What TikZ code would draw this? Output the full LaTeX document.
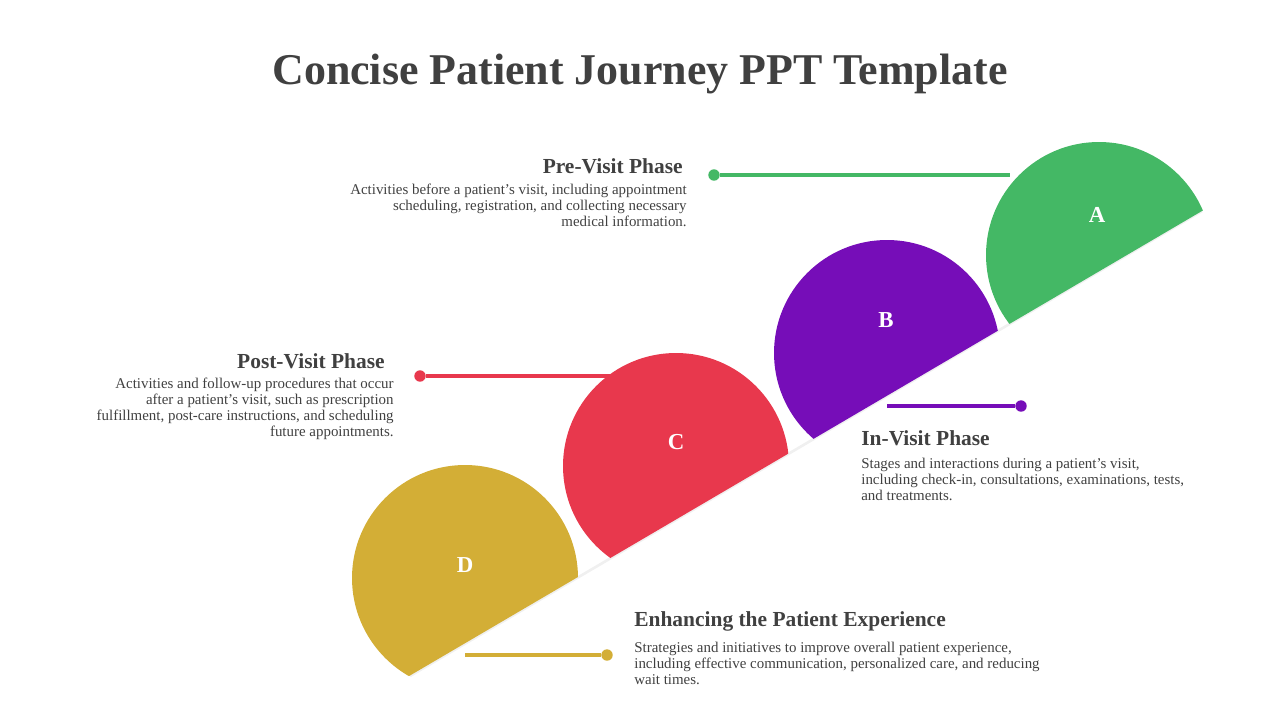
\documentclass[tikz,border=0pt]{standalone}
\usepackage{fontspec}
\setmainfont{Liberation Serif}
\usetikzlibrary{positioning}
\definecolor{phgreen}{HTML}{44B865}
\definecolor{phpurple}{HTML}{760DB8}
\definecolor{phred}{HTML}{E8384D}
\definecolor{phgold}{HTML}{D3AE36}
\definecolor{txtdark}{HTML}{404040}
\tikzset{
  dot/.style={circle, fill=#1, inner sep=0pt, minimum size=6.5pt},
  link/.style={line width=2.2pt, draw=#1},
  head/.style={text=txtdark, font=\fontsize{12.2}{14}\selectfont\bfseries, inner sep=0pt},
  desc/.style={text=txtdark, font=\fontsize{8.5}{9.1}\selectfont, inner sep=0pt},
  letter/.style={text=white, font=\fontsize{13}{15}\selectfont\bfseries}
}
\begin{document}
\begin{tikzpicture}[x=0.02cm, y=-0.02cm]
    \useasboundingbox (0,0) rectangle (1280,720);

    \node[text=txtdark, font=\fontsize{25}{30}\selectfont\bfseries] (title) at (640,74) {Concise Patient Journey PPT Template};

    % connectors first, so that the half discs cover them
    \coordinate (ain) at (1010,175);
    \coordinate (bin) at (887,406);
    \coordinate (cin) at (640,376);
    \coordinate (din) at (465,655);
    \node[dot=phgreen] (adot) at (714,175) {};
    \node[dot=phpurple] (bdot) at (1021,406) {};
    \node[dot=phred] (cdot) at (420,376) {};
    \node[dot=phgold] (ddot) at (607,655) {};
    \draw[link=phgreen] (adot) -- (ain);
    \draw[link=phpurple] (bin) -- (bdot);
    \draw[link=phred] (cdot) -- (cin);
    \draw[link=phgold] (din) -- (ddot);

    \draw[black!6, line width=1.5pt] (410,676) -- (1202,211);

    \begin{scope}
        \clip (300,740) -- (1300,153.5) -- (1300,-100) -- (300,-100) -- cycle;
        \fill[phgreen] (1099,255) circle[radius=113];
        \fill[phpurple] (887,353) circle[radius=113];
        \fill[phred] (676,466) circle[radius=113];
        \fill[phgold] (465,578) circle[radius=113];
    \end{scope}

    \node[letter] (la) at (1097,215) {A};
    \node[letter] (lb) at (886,320) {B};
    \node[letter] (lc) at (676,442) {C};
    \node[letter] (ld) at (465,565) {D};

    % texts
    \node[head, anchor=east] (ahead) at (683,166) {Pre-Visit Phase};
    \node[desc, anchor=north east, align=right] (adesc) at (687,184) {Activities before a patient's visit, including appointment\\scheduling, registration, and collecting necessary\\medical information.};

    \node[head, anchor=east] (chead) at (385,361) {Post-Visit Phase};
    \node[desc, anchor=north east, align=right] (cdesc) at (394,378) {Activities and follow-up procedures that occur\\after a patient's visit, such as prescription\\fulfillment, post-care instructions, and scheduling\\future appointments.};

    \node[head, anchor=west] (bhead) at (861,438) {In-Visit Phase};
    \node[desc, anchor=north west, align=left] (bdesc) at (861,458) {Stages and interactions during a patient's visit,\\including check-in, consultations, examinations, tests,\\and treatments.};

    \node[head, anchor=west] (dhead) at (634,621) {Enhancing the Patient Experience};
    \node[desc, anchor=north west, align=left] (ddesc) at (634,642) {Strategies and initiatives to improve overall patient experience,\\including effective communication, personalized care, and reducing\\wait times.};
\end{tikzpicture}
\end{document}
